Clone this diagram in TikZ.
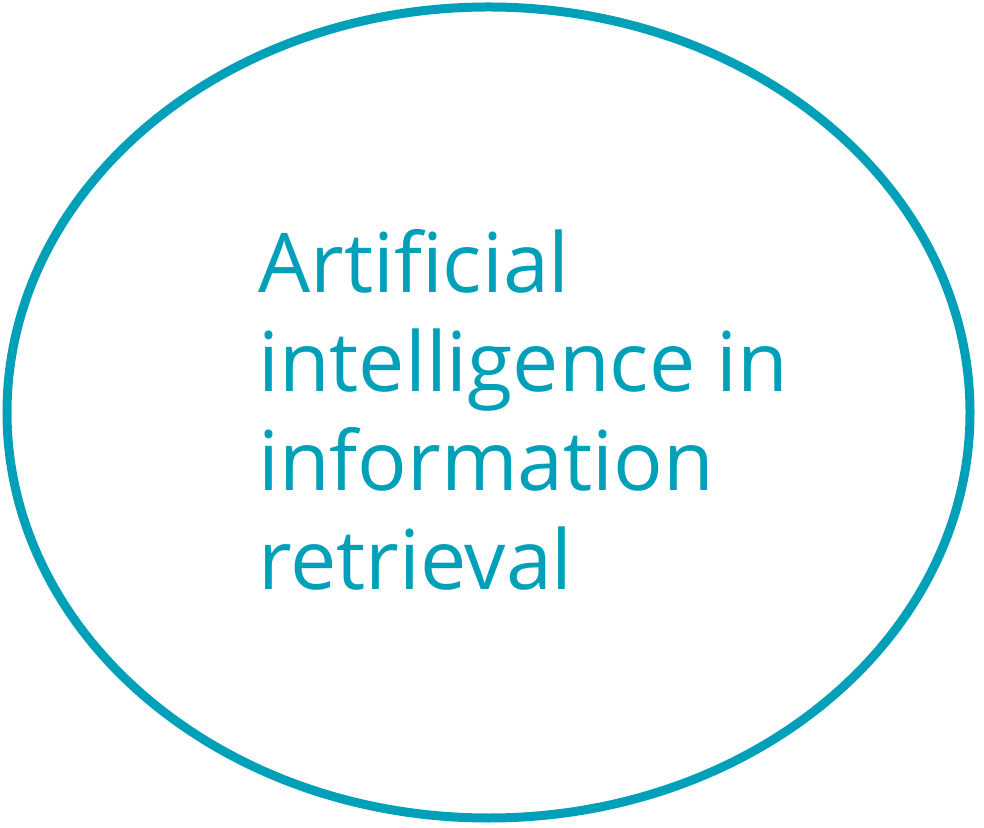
\documentclass[tikz,border=0pt]{standalone}
\usepackage{fontspec}
\setmainfont{Open Sans}
\usetikzlibrary{shapes.geometric}
\definecolor{teal}{RGB}{0,160,184}
\tikzset{ rim/.style = { ellipse
                       , draw         = teal
                       , line width   = 9pt
                       , inner sep    = 0pt
                       , minimum width  = 963pt
                       , minimum height = 811pt
                       },
            txt/.style = { text = teal
            , align     = left
            , inner sep = 0pt
            , font      = \fontsize{82.5}{99}\selectfont
            }
          }
\begin{document}
\begin{tikzpicture}[x=1pt,y=1pt]
            \useasboundingbox (0,0) rectangle (984,827);
            \node[rim] (ai) at (488.5,414.5) {};
            \node[txt, anchor=base west] (label) at (258,237)
                {Artificial\\ intelligence in\\ information\\ retrieval};
            \end{tikzpicture}
\end{document}
